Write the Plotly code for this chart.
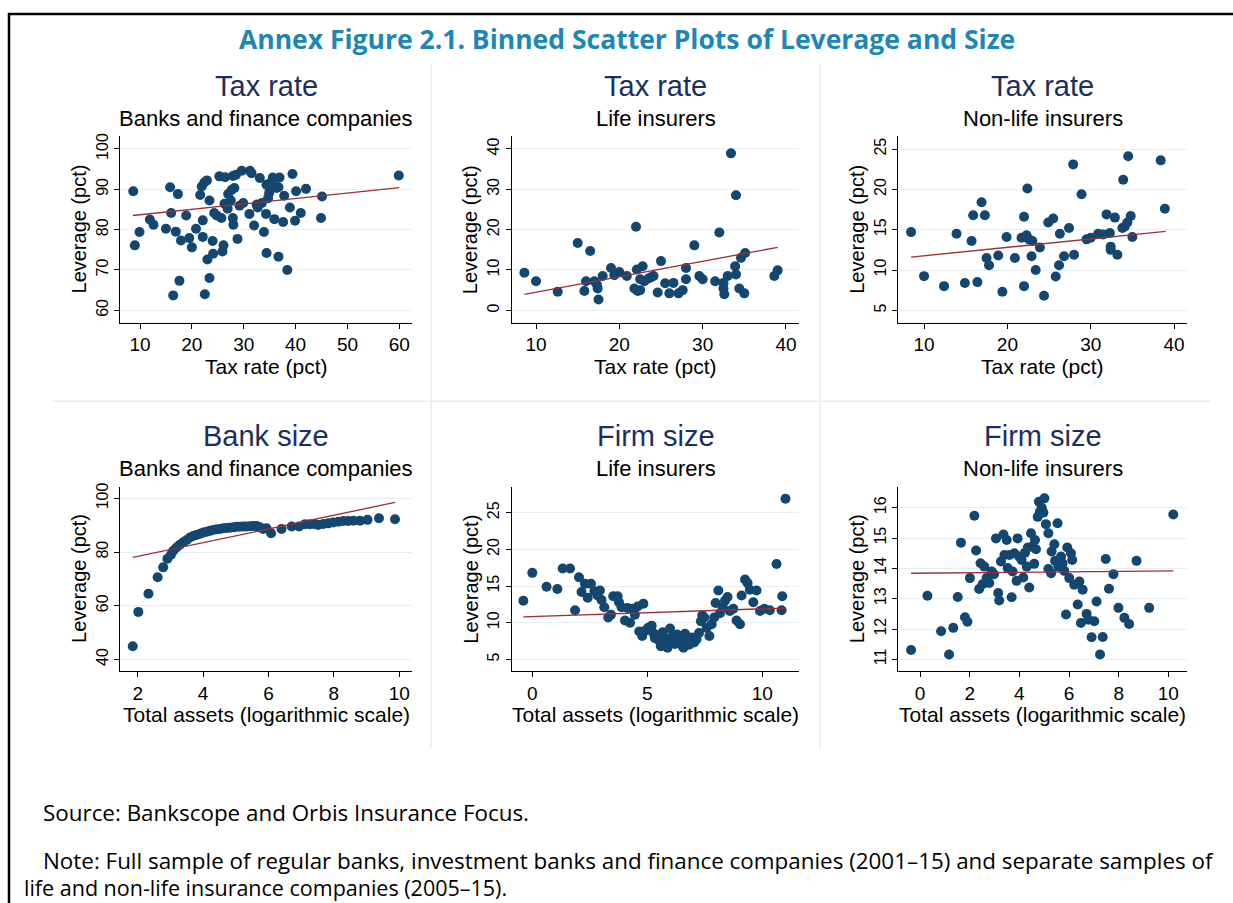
import plotly.graph_objects as go

# ---------------- DATA ----------------
# Panel 1: Tax rate vs leverage, banks and finance companies
p1_x = [8.7, 9.0, 9.9, 11.9, 12.6, 15.0, 15.8, 16.0, 16.4, 16.9, 17.3, 17.6, 17.9, 18.9, 19.5, 20.0, 20.8, 21.6, 21.9, 22.1,
        22.1, 22.4, 22.5, 22.9, 23.0, 23.4, 23.4, 24.0, 24.1, 24.3, 24.8, 25.3, 25.7, 26.1, 25.9, 26.3, 26.4, 26.9, 27.0, 27.5,
        27.7, 27.9, 27.9, 28.0, 28.2, 28.5, 28.8, 29.2, 29.6, 29.9, 31.1, 31.2, 31.5, 32.0, 32.5, 32.7, 33.1, 33.5, 33.9, 34.3,
        34.4, 34.4, 34.7, 34.9, 35.2, 35.4, 35.6, 35.7, 35.9, 36.3, 36.7, 36.9, 36.7, 37.6, 37.8, 38.4, 38.9, 39.4, 39.9, 40.1,
        41.0, 42.0, 44.9, 45.1, 59.9]
p1_y = [89.5, 76.1, 79.4, 82.5, 81.2, 80.2, 90.5, 84.1, 63.7, 79.5, 88.8, 67.3, 77.3, 83.5, 77.9, 75.6, 80.2, 88.6, 90.7, 82.3,
        78.2, 91.7, 64.0, 92.2, 72.6, 68.0, 87.2, 77.2, 74.0, 84.1, 83.5, 93.2, 82.9, 76.1, 74.6, 86.4, 93.0, 85.2, 88.8, 87.2,
        89.9, 93.3, 82.9, 81.2, 90.3, 93.6, 77.7, 85.9, 94.6, 86.6, 83.9, 94.6, 94.0, 81.0, 86.2, 85.5, 92.8, 86.6, 79.4, 83.9,
        74.2, 91.1, 87.8, 89.1, 91.7, 90.3, 92.9, 91.1, 82.6, 90.3, 90.5, 92.9, 73.3, 81.9, 88.4, 70.0, 85.5, 93.8, 82.2, 89.5,
        84.1, 90.1, 82.9, 88.2, 93.4]
p1_fit_x = [8.6, 60.0]
p1_fit_y = [83.5, 90.4]

# Panel 2: Tax rate vs leverage, life insurers
p2_x = [8.6, 10.0, 12.6, 15.0, 15.8, 16.0, 16.5, 17.0, 17.3, 17.4, 17.5, 18.0, 19.0, 19.4, 20.0, 20.9, 21.8, 22.0, 22.1, 22.2,
        22.5, 22.5, 22.8, 23.0, 23.5, 23.8, 24.1, 24.6, 25.0, 25.5, 26.0, 26.5, 27.1, 27.6, 28.0, 28.0, 29.0, 29.6, 30.0, 31.5,
        32.0, 32.5, 32.5, 32.6, 33.0, 33.4, 33.9, 34.0, 34.0, 34.4, 34.6, 35.0, 35.1, 38.6, 39.0]
p2_y = [9.3, 7.2, 4.6, 16.7, 4.8, 7.2, 14.7, 7.2, 6.4, 5.4, 2.7, 8.5, 10.5, 8.7, 9.5, 8.5, 5.4, 20.7, 10.1, 4.8,
        5.0, 7.7, 10.9, 7.2, 7.9, 8.2, 8.5, 4.4, 12.2, 6.7, 4.2, 6.8, 4.2, 5.0, 7.7, 10.5, 16.1, 8.5, 7.7, 7.2,
        19.3, 6.8, 5.4, 4.0, 8.5, 38.9, 10.9, 28.5, 8.9, 5.4, 13.0, 4.2, 14.2, 8.5, 9.9]
p2_fit_x = [8.6, 39.0]
p2_fit_y = [3.95, 15.6]

# Panel 3: Tax rate vs leverage, non-life insurers
p3_x = [8.44, 10.0, 12.4, 13.9, 14.9, 15.7, 15.9, 16.4, 16.9, 17.3, 17.5, 17.8, 18.9, 19.4, 19.9, 20.9, 21.7, 22.0, 22.0, 22.3,
        22.4, 22.6, 22.9, 23.0, 23.4, 23.9, 24.4, 24.9, 25.5, 25.8, 26.2, 26.3, 26.8, 27.4, 27.9, 28.0, 28.9, 29.5, 30.0, 30.9,
        31.5, 31.9, 32.3, 32.4, 32.4, 32.9, 33.2, 33.9, 33.8, 34.1, 34.4, 34.5, 34.8, 35.0, 38.4, 38.9]
p3_y = [14.7, 9.24, 8.0, 14.5, 8.4, 13.6, 16.8, 8.5, 18.4, 16.8, 11.5, 10.6, 11.8, 7.3, 14.1, 11.5, 14.0, 16.6, 8.0, 14.3,
        20.1, 13.8, 11.7, 13.6, 10.0, 12.8, 6.8, 15.9, 16.4, 9.2, 10.6, 14.5, 11.7, 15.2, 23.1, 11.9, 19.4, 13.8, 14.0, 14.5,
        14.4, 16.9, 14.6, 12.5, 12.9, 16.5, 11.9, 21.2, 15.2, 15.4, 15.9, 24.1, 16.7, 14.1, 23.6, 17.6]
p3_fit_x = [8.44, 39.0]
p3_fit_y = [11.6, 14.8]

# Panel 4: Bank size vs leverage, banks and finance companies
p4_x = [1.85, 2.02, 2.33, 2.61, 2.78, 2.91, 3.02, 3.09, 3.19, 3.29, 3.40, 3.50, 3.60, 3.70, 3.80, 3.91, 4.01, 4.11, 4.21, 4.31,
        4.42, 4.52, 4.62, 4.72, 4.82, 4.93, 5.03, 5.13, 5.23, 5.33, 5.44, 5.54, 5.64, 5.74, 5.84, 5.94, 6.08, 6.40, 6.71, 6.94,
        7.12, 7.27, 7.42, 7.52, 7.68, 7.83, 7.98, 8.14, 8.29, 8.44, 8.60, 8.80, 9.03, 9.38, 9.87]
p4_y = [44.9, 57.7, 64.5, 70.6, 74.3, 77.5, 79.0, 80.5, 81.7, 82.7, 83.7, 84.5, 85.4, 86.0, 86.4, 86.8, 87.3, 87.6, 87.9, 88.2,
        88.5, 88.6, 88.9, 89.0, 89.1, 89.2, 89.4, 89.4, 89.5, 89.5, 89.6, 89.7, 89.7, 89.2, 88.6, 88.9, 87.0, 88.6, 89.5, 89.5,
        90.4, 90.4, 90.4, 90.1, 90.5, 90.7, 91.0, 91.3, 91.6, 91.6, 91.7, 91.7, 92.0, 92.6, 92.2]
p4_fit_x = [1.85, 9.87]
p4_fit_y = [78.0, 98.5]

# Panel 5: Firm size vs leverage, life insurers
p5_x = [-0.39, 0.0, 0.62, 1.09, 1.32, 1.64, 1.86, 2.03, 2.14, 2.29, 2.41, 2.55, 2.70, 2.84, 2.94, 3.01, 3.13, 3.30, 3.42, 3.52,
        3.71, 3.77, 3.88, 4.03, 4.14, 4.25, 4.36, 4.46, 4.58, 4.83, 4.65, 4.78, 4.90, 5.04, 5.19, 5.26, 5.33, 5.45, 5.52, 5.59,
        5.67, 5.74, 5.81, 5.88, 5.99, 6.06, 6.13, 6.20, 6.30, 6.39, 6.49, 6.57, 6.64, 6.71, 6.81, 6.93, 7.04, 7.14, 7.25, 7.33,
        7.39, 7.48, 7.58, 7.70, 7.80, 7.91, 7.97, 8.09, 8.16, 8.28, 8.38, 8.49, 8.59, 8.74, 8.88, 9.03, 9.10, 9.25, 9.36, 9.46,
        9.61, 9.75, 9.90, 10.09, 10.33, 10.84, 10.62, 10.87, 11.01]
p5_y = [13.0, 16.8, 14.9, 14.6, 17.4, 17.4, 11.7, 16.2, 14.2, 15.3, 13.4, 15.3, 14.3, 13.7, 14.4, 13.1, 12.1, 10.7, 11.1, 13.6,
        13.6, 12.8, 12.1, 10.3, 12.0, 10.0, 11.9, 11.1, 12.2, 12.6, 8.8, 8.2, 8.9, 9.3, 9.6, 8.6, 7.9, 8.3, 7.5, 6.8,
        8.7, 8.0, 7.2, 6.6, 9.2, 8.0, 7.5, 7.1, 8.4, 7.7, 7.0, 6.6, 8.5, 7.5, 7.0, 8.0, 7.3, 7.7, 8.6, 10.2,
        11.0, 10.7, 9.3, 8.2, 9.8, 10.7, 12.7, 14.4, 11.3, 12.1, 13.0, 13.5, 11.6, 11.9, 10.3, 9.8, 13.7, 15.9, 15.4, 14.5,
        12.8, 14.4, 11.6, 11.9, 11.7, 11.7, 18.0, 13.6, 26.9]
p5_fit_x = [-0.39, 11.01]
p5_fit_y = [10.8, 12.0]

# Panel 6: Firm size vs leverage, non-life insurers
p6_x = [-0.36, 0.30, 0.85, 1.17, 1.34, 1.52, 1.65, 1.81, 1.91, 2.01, 2.19, 2.26, 2.38, 2.44, 2.52, 2.59, 2.68, 2.79, 2.89, 2.98,
        3.06, 3.15, 3.19, 3.26, 3.36, 3.40, 3.49, 3.53, 3.60, 3.69, 3.73, 3.80, 3.89, 3.93, 4.00, 4.09, 4.16, 4.23, 4.30, 4.34,
        4.40, 4.47, 4.52, 4.60, 4.63, 4.67, 4.74, 4.79, 4.83, 4.90, 4.97, 5.01, 5.07, 5.17, 5.17, 5.28, 5.30, 5.41, 5.44, 5.54,
        5.57, 5.68, 5.74, 5.81, 5.88, 5.93, 6.01, 6.08, 6.13, 6.21, 6.35, 6.42, 6.48, 6.55, 6.71, 6.78, 6.91, 7.02, 7.11, 7.25,
        7.36, 7.48, 7.61, 7.79, 7.99, 8.23, 8.42, 8.72, 9.23, 10.20]
p6_y = [11.31, 13.10, 11.93, 11.16, 12.04, 13.06, 14.85, 12.39, 12.24, 13.68, 15.74, 14.59, 13.32, 14.17, 13.48, 14.06, 13.68, 13.52, 13.90, 13.81,
        14.99, 13.19, 12.94, 14.23, 15.12, 14.44, 14.94, 14.01, 14.44, 13.05, 13.90, 14.50, 13.59, 14.99, 14.39, 14.28, 13.70, 14.52, 14.06, 14.69,
        13.37, 15.16, 14.72, 14.15, 14.94, 14.63, 15.70, 16.20, 15.87, 16.00, 15.84, 16.31, 15.46, 15.16, 13.98, 13.84, 14.56, 14.80, 14.25, 15.49,
        14.06, 14.39, 14.17, 13.92, 12.48, 14.69, 13.68, 14.50, 14.28, 13.46, 12.81, 13.57, 12.20, 13.30, 12.50, 12.31, 11.73, 12.26, 12.91, 11.16,
        11.74, 14.31, 13.33, 13.81, 12.70, 12.37, 12.17, 14.25, 12.70, 15.78]
p6_fit_x = [-0.36, 10.20]
p6_fit_y = [13.84, 13.92]

# Tick values
p1_xticks = [10, 20, 30, 40, 50, 60]
p1_yticks = [60, 70, 80, 90, 100]
p2_xticks = [10, 20, 30, 40]
p2_yticks = [0, 10, 20, 30, 40]
p3_xticks = [10, 20, 30, 40]
p3_yticks = [5, 10, 15, 20, 25]
p4_xticks = [2, 4, 6, 8, 10]
p4_yticks = [40, 60, 80, 100]
p5_xticks = [0, 5, 10]
p5_yticks = [5, 10, 15, 20, 25]
p6_xticks = [0, 2, 4, 6, 8, 10]
p6_yticks = [11, 12, 13, 14, 15, 16]

panel_titles = ["Tax rate", "Tax rate", "Tax rate", "Bank size", "Firm size", "Firm size"]
panel_subtitles = ["Banks and finance companies", "Life insurers", "Non-life insurers",
                   "Banks and finance companies", "Life insurers", "Non-life insurers"]
x_titles = ["Tax rate (pct)"] * 3 + ["Total assets (logarithmic scale)"] * 3
y_title = "Leverage (pct)"
main_title = "Annex Figure 2.1. Binned Scatter Plots of Leverage and Size"
source_text = "Source: Bankscope and Orbis Insurance Focus."
note_line1 = "Note: Full sample of regular banks, investment banks and finance companies (2001\u201315) and separate samples of"
note_line2 = "life and non-life insurance companies (2005\u201315)."

# ---------------- LAYOUT / STYLE ----------------
W, H = 1233, 903
MARKER = "#14476f"
FIT = "#9b2f35"
GRID = "#e6eef4"
SEP = "#e4ebf1"
FONT = "Liberation Sans, Arial, sans-serif"
NOTE_FONT = "Open Sans, sans-serif"

# pixel boxes of plot areas: (left, right, top, bottom)
boxes = [
    (120, 412, 133, 320),
    (511.7, 799.3, 133, 320),
    (898.3, 1186.7, 133, 320),
    (120, 412, 485, 670),
    (511.7, 799.3, 485, 670),
    (898.3, 1186.7, 485, 670),
]
xranges = [[6.14, 62.45], [7.08, 41.6], [6.91, 41.52], [1.46, 10.39], [-0.896, 11.61], [-0.874, 10.74]]
yranges = [[56.96, 103.1], [-3.04, 43.1], [3.48, 26.57], [35.66, 104.3], [3.41, 28.53], [10.616, 16.69]]

data = [
    (p1_x, p1_y, p1_fit_x, p1_fit_y, p1_xticks, p1_yticks),
    (p2_x, p2_y, p2_fit_x, p2_fit_y, p2_xticks, p2_yticks),
    (p3_x, p3_y, p3_fit_x, p3_fit_y, p3_xticks, p3_yticks),
    (p4_x, p4_y, p4_fit_x, p4_fit_y, p4_xticks, p4_yticks),
    (p5_x, p5_y, p5_fit_x, p5_fit_y, p5_xticks, p5_yticks),
    (p6_x, p6_y, p6_fit_x, p6_fit_y, p6_xticks, p6_yticks),
]

fig = go.Figure()
layout = dict(
    width=W, height=H, autosize=False,
    margin=dict(l=0, r=0, t=0, b=0),
    paper_bgcolor="white", plot_bgcolor="white",
    showlegend=False,
    font=dict(family=FONT, color="black"),
)


def px(x):
    return x / W


def py(y):
    return 1 - y / H


annotations = []
shapes = []

for i, (xs, ys, fx, fy, xt, yt) in enumerate(data):
    n = i + 1
    xa = "x" if n == 1 else f"x{n}"
    ya = "y" if n == 1 else f"y{n}"
    l, r, t, b = boxes[i]
    fig.add_trace(go.Scatter(x=xs, y=ys, mode="markers", xaxis=xa, yaxis=ya,
                             marker=dict(color=MARKER, size=10, line=dict(width=0)),
                             hoverinfo="x+y"))
    fig.add_trace(go.Scatter(x=fx, y=fy, mode="lines", xaxis=xa, yaxis=ya,
                             line=dict(color=FIT, width=1.3), hoverinfo="skip"))
    xkey = "xaxis" if n == 1 else f"xaxis{n}"
    ykey = "yaxis" if n == 1 else f"yaxis{n}"
    layout[xkey] = dict(domain=[px(l), px(r)], anchor=ya, range=xranges[i],
                        tickmode="array", tickvals=xt, ticks="outside", ticklen=5,
                        tickcolor="black", tickwidth=1, showline=True, linecolor="black",
                        linewidth=1, showgrid=False, zeroline=False,
                        tickfont=dict(size=19, family=FONT, color="black"))
    layout[ykey] = dict(domain=[py(b), py(t)], anchor=xa, range=yranges[i],
                        tickmode="array", tickvals=yt, ticks="outside", ticklen=5,
                        tickcolor="black", tickwidth=1, showline=True, linecolor="black",
                        linewidth=1, showgrid=True, gridcolor=GRID, gridwidth=1,
                        zeroline=False, tickangle=-90,
                        tickfont=dict(size=16, family=FONT, color="black"))
    cx = (l + r) / 2
    annotations.append(dict(text=panel_titles[i], x=px(cx), y=py(t - 51), xref="paper", yref="paper",
                            showarrow=False, xanchor="center", yanchor="middle",
                            font=dict(size=29, family=FONT, color="#1b2f5e")))
    annotations.append(dict(text=panel_subtitles[i], x=px(cx), y=py(t - 18), xref="paper", yref="paper",
                            showarrow=False, xanchor="center", yanchor="middle",
                            font=dict(size=22, family=FONT, color="black")))
    annotations.append(dict(text=x_titles[i], x=px(cx), y=py(b + 44), xref="paper", yref="paper",
                            showarrow=False, xanchor="center", yanchor="middle",
                            font=dict(size=21, family=FONT, color="black")))
    annotations.append(dict(text=y_title, x=px(l - 41), y=py((t + b) / 2), xref="paper", yref="paper",
                            showarrow=False, xanchor="center", yanchor="middle", textangle=-90,
                            font=dict(size=20, family=FONT, color="black")))

# main title
annotations.append(dict(text="<b>" + main_title + "</b>", x=px(627), y=py(35), xref="paper", yref="paper",
                        showarrow=False, xanchor="center", yanchor="middle",
                        font=dict(size=26.5, family=NOTE_FONT, color="#1c87b5")))
# footnotes
annotations.append(dict(text=source_text, x=px(41), y=py(812), xref="paper", yref="paper",
                        showarrow=False, xanchor="left", yanchor="middle",
                        font=dict(size=22.4, family=NOTE_FONT, color="black")))
annotations.append(dict(text=note_line1, x=px(41), y=py(860), xref="paper", yref="paper",
                        showarrow=False, xanchor="left", yanchor="middle",
                        font=dict(size=22.4, family=NOTE_FONT, color="black")))
annotations.append(dict(text=note_line2, x=px(22), y=py(887), xref="paper", yref="paper",
                        showarrow=False, xanchor="left", yanchor="middle",
                        font=dict(size=21.5, family=NOTE_FONT, color="black")))

# frame lines (top and left)
shapes.append(dict(type="line", xref="paper", yref="paper", x0=px(8), x1=1, y0=py(10), y1=py(10),
                   line=dict(color="black", width=2.5)))
shapes.append(dict(type="line", xref="paper", yref="paper", x0=px(9), x1=px(9), y0=py(9), y1=0,
                   line=dict(color="black", width=2.5)))
# panel separators
for sx in (431, 820):
    shapes.append(dict(type="line", xref="paper", yref="paper", x0=px(sx), x1=px(sx), y0=py(60), y1=py(748),
                       line=dict(color=SEP, width=1.5)))
shapes.append(dict(type="line", xref="paper", yref="paper", x0=px(52), x1=px(1210), y0=py(399), y1=py(399),
                   line=dict(color=SEP, width=1.5)))

layout["annotations"] = annotations
layout["shapes"] = shapes
fig.update_layout(**layout)
fig.write_html("out.html", config={"displayModeBar": False},
               post_script="document.body.style.margin='0';")
